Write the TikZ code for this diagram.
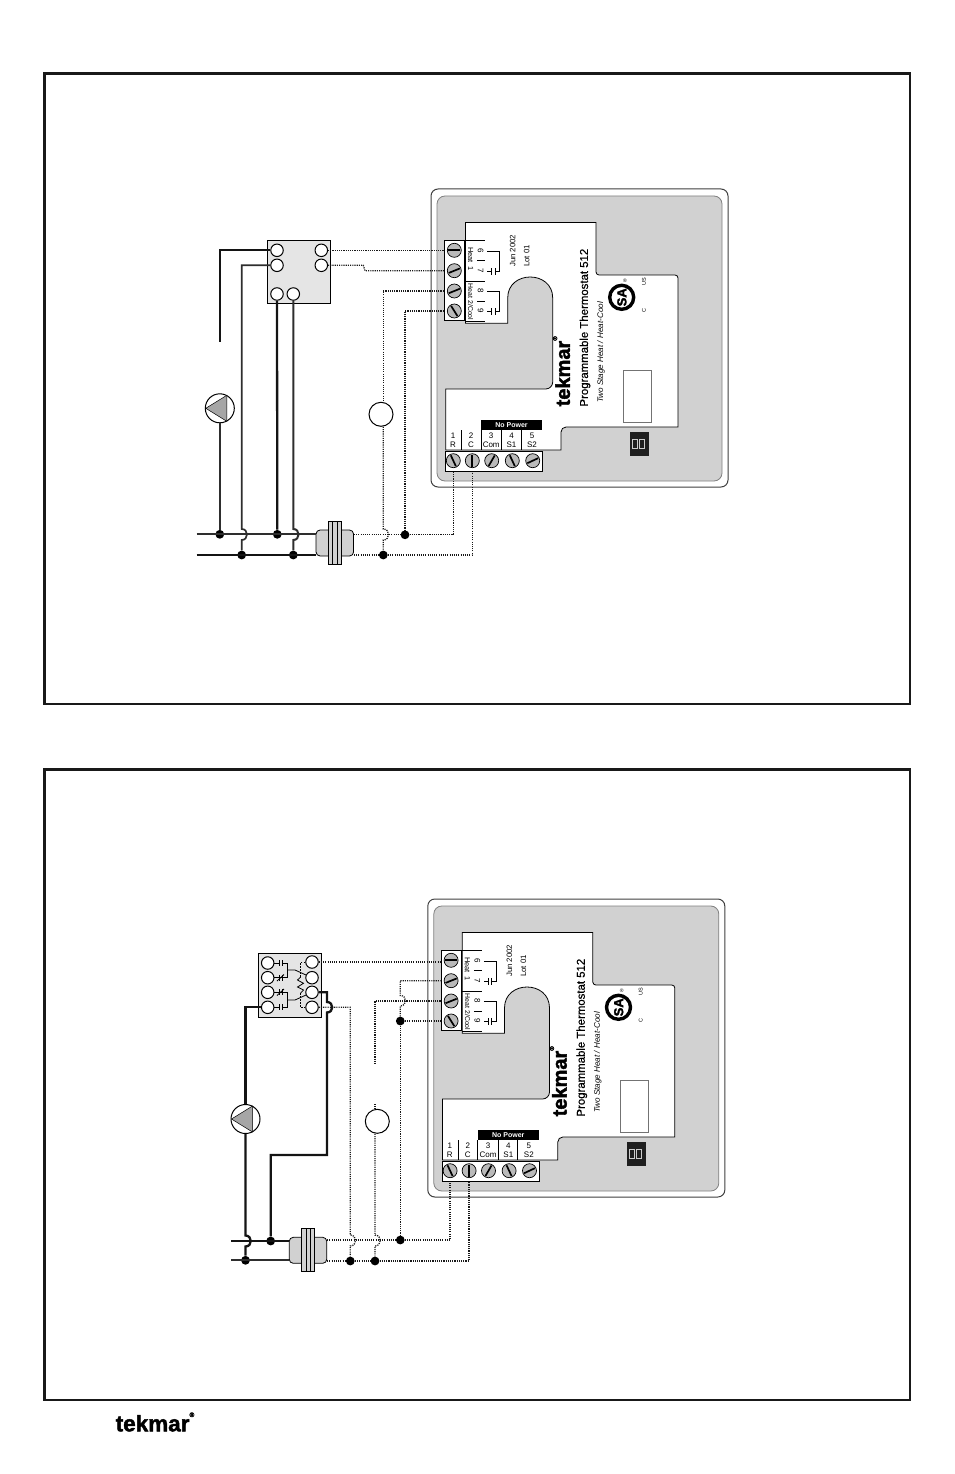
\documentclass[tikz,border=0pt]{standalone}
\usepackage{fontspec}
\setmainfont{Liberation Sans}
\newfontfamily\logofont[UprightFont=* Bold,FakeBold=2]{Liberation Sans}
\newfontfamily\namefont[FakeBold=.5]{Liberation Sans}
\newcommand{\fs}[1]{\fontsize{#1}{#1}\selectfont}
\newcommand{\screwat}[4]{%
\node[screw] (-#1) at (#2,#3) {};
\draw[slot] (#2,#3) ++(#4:6) -- ++(#4+180:12);}
\definecolor{panelgray}{gray}{.82}
\definecolor{boxgray}{gray}{.9}
\tikzset{
frameline/.style={line width=2.6pt,color=black!90},
term/.style={circle,draw,fill=white,line width=1pt,minimum size=12.5pt,inner sep=0pt},
screw/.style={circle,draw,fill=black!27,line width=.7pt,minimum size=14pt,inner sep=0pt},
slot/.style={line width=1.7pt,color=black},
jct/.style={circle,fill=black,minimum size=8.8pt,inner sep=0pt},
wire/.style={line width=2.3pt,color=black!92},
thinwire/.style={line width=1.7pt,color=black!82},
sig/.style={line width=1.3pt,dash pattern=on 1.1pt off 1.1pt,color=black!90},
thin line/.style={line width=.8pt,color=black},
lbl/.style={inner sep=0pt,text=black},
relaybox/.style={draw,fill=boxgray,line width=1pt,inner sep=0pt},
thermo/.style={circle,draw,fill=white,line width=1pt,minimum size=24pt,inner sep=0pt},
thermostat/.pic={
\draw[line width=1pt,color=black!75,fill=white,rounded corners=7pt] (431,189) rectangle (728,487);
\draw[line width=.8pt,color=black!50,fill=panelgray,rounded corners=8pt] (437,196) rectangle (722,481);
\draw[thin line,fill=white] (465.5,222.5) -- (596,222.5) [rounded corners=3pt] -- (596,275) -- (678,275) [sharp corners] -- (678,427) [rounded corners=5pt] -- (561,427) [sharp corners] -- (561,450) -- (445.7,450) -- (445.7,389) [rounded corners=7pt] -- (552.7,389) [sharp corners] -- (552.7,298) .. controls (552.7,270) and (507.7,270) .. (507.7,298) -- (507.7,323.3) -- (465.5,323.3) -- cycle;
\draw[thin line] (465,240.7) -- (485,240.7);
\draw[thin line] (465,281) -- (485,281);
\draw[thin line] (465,321) -- (485,321);
\draw[thin line] (477,260.7) -- (485,260.7);
\draw[thin line] (477,301) -- (485,301);
\foreach \ya/\yb in {251.7/271.7,291.7/311.5}{
\draw[thin line] (487,\ya) -- (499.3,\ya) -- (499.3,\yb) -- (495,\yb);
\draw[thin line] (495,\yb-3.5) -- (495,\yb+3.5);
\draw[thin line] (491.7,\yb-3.5) -- (491.7,\yb+3.5);
\draw[thin line] (491.7,\yb) -- (487,\yb);
}
\node[draw,fill=white,line width=1pt,inner sep=0pt,minimum width=20.7pt,minimum height=80.3pt] (-blk) at (454.6,280.8) {};
\node[draw,fill=white,line width=1pt,inner sep=0pt,minimum width=97pt,minimum height=20pt] (-blb) at (494.2,461.7) {};
\screwat{t6}{454.3}{250.3}{0}
\screwat{t7}{454.3}{270.7}{-22}
\screwat{t8}{454.3}{291}{-22}
\screwat{t9}{454.3}{311}{58}
\screwat{t1}{453.3}{460.7}{65}
\screwat{t2}{472.3}{460.7}{90}
\screwat{t3}{491.7}{460.7}{-60}
\screwat{t4}{512.3}{460.7}{65}
\screwat{t5}{532.7}{460.7}{-25}
\node[lbl,rotate=-90,font=\fs{7.4}] (-h1) at (470.7,259) {Heat\enspace 1};
\node[lbl,rotate=-90,font=\fs{6.9}] (-h2) at (470.7,302) {Heat 2/Cool};
\node[lbl,rotate=-90,font=\fs{8}] (-n6) at (480.5,250.7) {6};
\node[lbl,rotate=-90,font=\fs{8}] (-n7) at (480.5,271) {7};
\node[lbl,rotate=-90,font=\fs{8}] (-n8) at (480.5,291) {8};
\node[lbl,rotate=-90,font=\fs{8}] (-n9) at (480.5,311) {9};
\node[lbl,rotate=90,anchor=west,font=\fs{7.8}] (-jun) at (512.7,267) {Jun 2002};
\node[lbl,rotate=90,anchor=west,font=\fs{7.8}] (-lot) at (526.7,267) {Lot 01};
\node[lbl,rotate=90,anchor=west,font=\namefont\fs{11.4}] (-name) at (585,406.7) {Programmable Thermostat 512};
\node[lbl,rotate=90,anchor=west,font=\fs{8.1}\itshape] (-kind) at (601,403) {Two Stage Heat / Heat-Cool};
\node[lbl,rotate=90,anchor=west,font=\logofont\fs{20}] (-logo) at (561.5,406.5) {tekmar\raisebox{1.2ex}{\fs{6}®}};
\node[fill=black,inner sep=0pt,minimum width=61pt,minimum height=10pt,text=white,font=\fs{7}\bfseries] (-np) at (511.5,425) {No Power};
\draw[thin line] (461.7,430) -- (461.7,450);
\draw[thin line] (481,430) -- (481,450);
\draw[thin line] (501.7,430) -- (501.7,450);
\draw[thin line] (521,430) -- (521,450);
\foreach \n/\s/\x in {1/R/453,2/C/471,3/Com/491.2,4/S1/511.5,5/S2/532}{
\node[lbl,font=\fs{8}] (-d\n) at (\x,435.3) {\n};
\node[lbl,font=\fs{8}] (-s\n) at (\x,445) {\s};
}
\draw[line width=3.4pt] (621.7,297.3) circle (12pt);
\node[lbl,rotate=90,font=\logofont\fs{13}] (-sa) at (621.9,297.3) {SA};
\node[lbl,font=\fs{5}] (-reg) at (625,281) {®};
\node[lbl,rotate=90,font=\fs{5.5}] (-us) at (644,282) {US};
\node[lbl,rotate=90,font=\fs{5.5}] (-ca) at (644,310.7) {C};
\draw[line width=.7pt,color=black!55,fill=white] (623.3,370) rectangle (651.7,422.7);
\fill[black!88] (630.3,432.3) rectangle (649,456);
\draw[line width=.8pt,color=white!80!black] (632.5,439.5) rectangle (637.5,448.5);
\draw[line width=.8pt,color=white!80!black] (639.3,439.5) rectangle (644.3,448.5);
},
xformer/.pic={
\node[draw,fill=panelgray,line width=.8pt,rounded corners=4pt,inner sep=0pt,minimum width=37.5pt,minimum height=26pt] (-body) at (0,0) {};
\node[draw,fill=panelgray,line width=.8pt,inner sep=0pt,minimum width=12.8pt,minimum height=43pt] (-flange) at (0,0) {};
\draw[line width=.8pt] (-2.1,-21.5) -- (-2.1,21.5);
\draw[line width=.8pt] (2.1,-21.5) -- (2.1,21.5);
},
pump/.pic={
\node[circle,draw,fill=white,line width=1pt,minimum size=29pt,inner sep=0pt] (-c) at (0,0) {};
\draw[line width=.5pt,fill=black!35] (-14,0) -- (7,-13) -- (7,13) -- cycle;
}
}
\begin{document}
\begin{tikzpicture}[x=1pt,y=-1pt]
\useasboundingbox (0,0) rectangle (954,1474);
\draw[frameline] (44.5,73.5) rectangle (910,704);
\draw[frameline] (44.5,769.5) rectangle (910,1400);
\pic (a) at (0,0) {thermostat};
\pic (b) at (-3.2,710) {thermostat};
\node[lbl,font=\logofont\fs{22.5}] (logo) at (155,1422) {tekmar\raisebox{1.2ex}{\fs{6.5}®}};

\node[relaybox,minimum width=63pt,minimum height=63pt] (ra) at (298.8,271.8) {};
\node[term] (ra1) at (277,250.3) {};
\node[term] (ra2) at (277,265.3) {};
\node[term] (ra3) at (321.3,250.3) {};
\node[term] (ra4) at (321.3,265.3) {};
\node[term] (ra5) at (277,294) {};
\node[term] (ra6) at (293.3,294) {};
\pic (pa) at (219.8,408.3) {pump};
\node[thermo] (ca) at (381,414.3) {};
\pic (xa) at (334.8,543) {xformer};
\node[jct] (ja1) at (219.8,534.3) {};
\node[jct] (ja2) at (277.3,534.3) {};
\node[jct] (ja3) at (405,534.8) {};
\node[jct] (ja4) at (383.3,555) {};
\node[jct] (ja5) at (241.7,555) {};
\node[jct] (ja6) at (293.3,555) {};
\coordinate (la1) at (196.7,534.3);
\coordinate (la2) at (196.7,555);
\coordinate (ea) at (219.8,342.3);
\draw[wire] (ra1) -| (ea);
\draw[thinwire] (ra2) -| (241.7,529) .. controls +(7,0) and +(7,0) .. (241.7,540) -- (ja5);
\draw[thinwire] (ja1) -- (pa-c.south);
\draw[wire] (ra5) -- (ja2);
\draw[thinwire,line width=2pt] (ra6) -- (293.3,529) .. controls +(7,0) and +(7,0) .. (293.3,540) -- (ja6);
\draw[thinwire] (la1) -- (xa-body.west |- la1);
\draw[wire] (la2) -- (xa-body.west |- la2);
\draw[sig] (ra3) -- (a-blk.west |- ra3);
\draw[sig] (ra4) -- (363.3,265.3) -- (365,270.7) -- (a-blk.west |- a-t7);
\draw[sig] (a-blk.west |- a-t8) -| (ja4 |- ca.north);
\draw[sig] (ja4 |- ca.south) -- (383.3,529) .. controls +(7,0) and +(7,0) .. (383.3,540) -- (ja4);
\draw[sig] (a-blk.west |- a-t9) -| (ja3);
\draw[sig] (xa-body.east |- ja3) -- (ja3) -| (a-t1 |- a-blb.south);
\draw[sig] (xa-body.east |- ja4) -- (ja4) -| (a-t2 |- a-blb.south);

\node[relaybox,minimum width=63pt,minimum height=64pt] (rb) at (289.8,985.3) {};
\node[term] (rb1) at (267.7,963) {};
\node[term] (rb2) at (267.7,977.7) {};
\node[term] (rb3) at (267.7,992.3) {};
\node[term] (rb4) at (267.7,1007.3) {};
\node[term] (rb5) at (312,962) {};
\node[term] (rb6) at (312,977.7) {};
\node[term] (rb7) at (312,992.3) {};
\node[term] (rb8) at (312,1007.3) {};
\draw[thin line] (rb1) -- (279.3,963);
\draw[thin line] (279.3,960) -- (279.3,966);
\draw[thin line] (282,960) -- (282,966);
\draw[thin line] (282,963) -- (287.7,963) -- (287.7,977.7) -- (rb2);
\draw[thin line] (277,981) -- (284,974.5);
\draw[thin line] (279.3,974.7) -- (279.3,980.7);
\draw[thin line] (282,974.7) -- (282,980.7);
\draw[thin line] (287.7,970) -- (295,970) -- (rb6);
\draw[thin line] (rb3) -- (287.7,992.3) -- (287.7,1007.3) -- (282,1007.3);
\draw[thin line] (277,995.5) -- (284,989);
\draw[thin line] (279.3,989.3) -- (279.3,995.3);
\draw[thin line] (282,989.3) -- (282,995.3);
\draw[thin line] (rb4) -- (279.3,1007.3);
\draw[thin line] (279.3,1004.3) -- (279.3,1010.3);
\draw[thin line] (282,1004.3) -- (282,1010.3);
\draw[thin line] (287.7,1000) -- (295,1000) -- (rb7);
\draw[thin line,dash pattern=on 1.5pt off 1.5pt] (rb5) -- (300.7,962) -- (300.7,977);
\draw[thin line] (300.7,977) -- (297.5,980) -- (303.5,983.3) -- (297.5,987) -- (303.5,990) -- (300.7,993);
\draw[thin line,dash pattern=on 1.5pt off 1.5pt] (300.7,993) -- (300.7,1007.3) -- (rb8);
\pic (pb) at (245.5,1119) {pump};
\node[thermo] (cb) at (377.3,1121.3) {};
\pic (xb) at (308,1250.3) {xformer};
\node[jct] (jb1) at (245.5,1260.3) {};
\node[jct] (jb2) at (270.7,1241) {};
\node[jct] (jb3) at (350.3,1261) {};
\node[jct] (jb4) at (375,1261) {};
\node[jct] (jb5) at (400.3,1021) {};
\node[jct] (jb6) at (400.3,1240) {};
\coordinate (lb1) at (231,1241);
\coordinate (lb2) at (231,1260.3);
\coordinate (eb1) at (375,1065);
\coordinate (eb2) at (375,1104);
\draw[wire] (rb4) -| (pb-c.north);
\draw[wire] (pb-c.south) -- (245.5,1235.5) .. controls +(7,0) and +(7,0) .. (245.5,1246.5) -- (jb1);
\draw[wire] (jb2) |- (327,1155) -- (327,1012.5) .. controls +(7,0) and +(7,0) .. (327,1002) -- (327,992.3) -- (rb7);
\draw[wire] (lb1) -- (xb-body.west |- lb1);
\draw[thinwire] (lb2) -- (xb-body.west |- lb2);
\draw[sig] (rb5) -- (b-blk.west |- rb5);
\draw[sig] (rb8) -- (350.3,1007.3) -- (350.3,1235) .. controls +(7,0) and +(7,0) .. (350.3,1246) -- (jb3);
\draw[sig] (jb5) -- (400.3,1006) .. controls +(7,0) and +(7,0) .. (400.3,995.5) |- (b-blk.west |- b-t7);
\draw[sig] (jb5) -- (b-blk.west |- jb5);
\draw[sig] (jb5) -- (jb6);
\draw[sig] (b-blk.west |- b-t8) -| (eb1);
\draw[sig] (eb2) -- (eb2 |- cb.north);
\draw[sig] (jb4 |- cb.south) -- (375,1235) .. controls +(7,0) and +(7,0) .. (375,1246) -- (jb4);
\draw[sig] (xb-body.east |- jb6) -- (jb6) -| (b-t1 |- b-blb.south);
\draw[sig] (xb-body.east |- jb3) -- (jb3) -- (jb4) -| (b-t2 |- b-blb.south);
\end{tikzpicture}
\end{document}
